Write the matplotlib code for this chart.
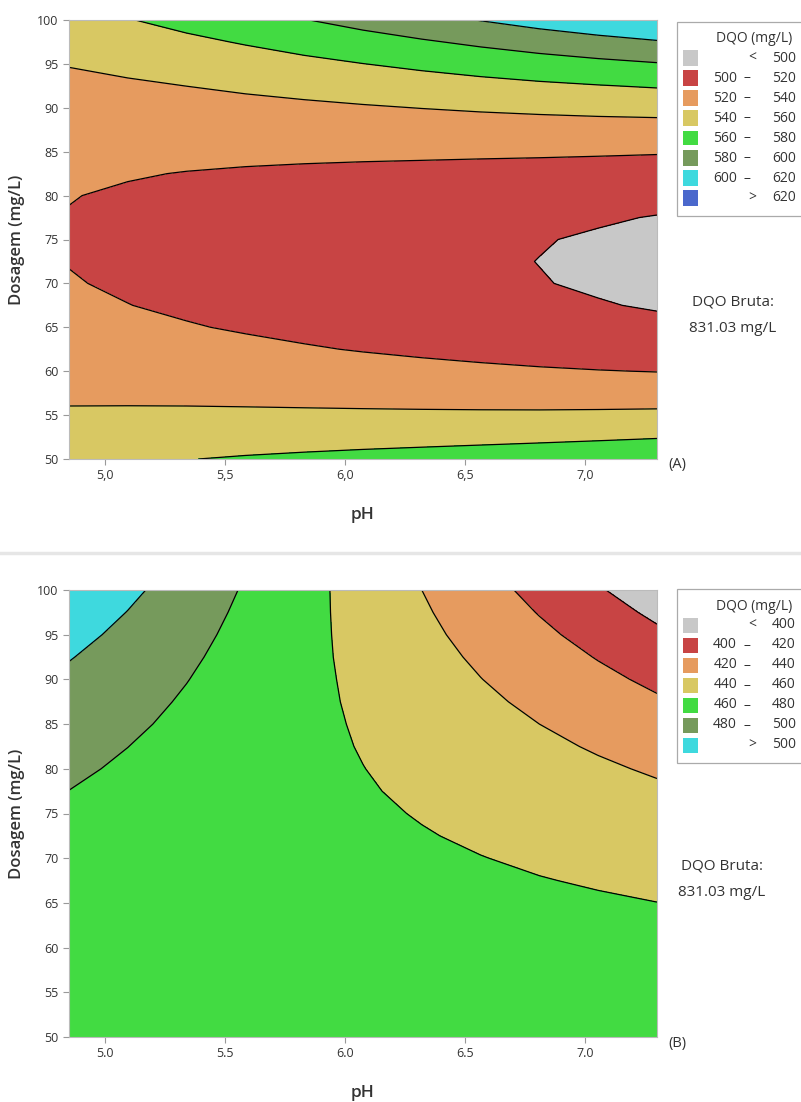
import numpy as np
import matplotlib
matplotlib.use("Agg")
import matplotlib.pyplot as plt
from matplotlib.patches import Rectangle
from matplotlib.lines import Line2D

plt.rcParams['font.family'] = ['Open Sans', 'DejaVu Sans']

# grid: pH along columns, dosage (mg/L) along rows
ph = [4.85, 5.095, 5.34, 5.585, 5.83, 6.075, 6.32, 6.565, 6.81, 7.055, 7.3]
dose = [50, 52.5, 55, 57.5, 60, 62.5, 65, 67.5, 70, 72.5, 75,
        77.5, 80, 82.5, 85, 87.5, 90, 92.5, 95, 97.5, 100]

# (A) DQO (mg/L)
dqo_a = [
    [554.9, 557.4, 559.6, 561.6, 563.4, 565.2, 567.0, 568.9, 570.9, 573.3, 576.0],
    [548.2, 549.6, 550.8, 551.7, 552.5, 553.3, 554.0, 554.9, 556.0, 557.3, 558.9],
    [542.2, 542.6, 542.9, 542.9, 542.8, 542.7, 542.6, 542.6, 542.7, 543.1, 543.7],
    [536.9, 536.5, 535.9, 535.2, 534.4, 533.5, 532.7, 531.9, 531.3, 530.9, 530.7],
    [532.2, 531.2, 530.0, 528.6, 527.2, 525.7, 524.3, 522.9, 521.6, 520.5, 519.6],
    [528.3, 526.7, 524.9, 523.1, 521.2, 519.2, 517.3, 515.5, 513.7, 512.1, 510.6],
    [525.1, 523.1, 520.9, 518.7, 516.4, 514.2, 511.9, 509.7, 507.6, 505.6, 503.6],
    [522.6, 520.2, 517.8, 515.4, 512.9, 510.4, 508.0, 505.6, 503.2, 500.9, 498.7],
    [520.8, 518.3, 515.7, 513.2, 510.6, 508.1, 505.6, 503.1, 500.6, 498.2, 495.8],
    [519.6, 517.1, 514.6, 512.1, 509.6, 507.1, 504.7, 502.2, 499.8, 497.4, 495.0],
    [519.2, 516.8, 514.4, 512.1, 509.8, 507.5, 505.2, 503.0, 500.7, 498.5, 496.1],
    [519.5, 517.3, 515.2, 513.1, 511.2, 509.2, 507.3, 505.4, 503.4, 501.4, 499.4],
    [520.4, 518.6, 516.9, 515.3, 513.8, 512.4, 510.9, 509.4, 507.9, 506.3, 504.6],
    [522.1, 520.8, 519.6, 518.6, 517.7, 516.8, 516.0, 515.1, 514.2, 513.1, 511.9],
    [524.4, 523.8, 523.3, 523.0, 522.8, 522.7, 522.6, 522.4, 522.2, 521.8, 521.2],
    [527.5, 527.6, 528.0, 528.5, 529.2, 529.9, 530.7, 531.4, 532.0, 532.4, 532.6],
    [531.2, 532.3, 533.6, 535.1, 536.7, 538.5, 540.3, 542.0, 543.5, 544.9, 546.0],
    [535.7, 537.7, 540.1, 542.8, 545.6, 548.4, 551.3, 554.2, 556.9, 559.3, 561.5],
    [540.8, 544.1, 547.7, 551.5, 555.6, 559.8, 563.9, 568.0, 572.0, 575.6, 578.9],
    [546.6, 551.2, 556.2, 561.4, 566.9, 572.4, 578.0, 583.5, 588.8, 593.8, 598.5],
    [553.2, 559.2, 565.6, 572.4, 579.4, 586.5, 593.6, 600.6, 607.5, 614.0, 620.0],
]

# (B) DQO (mg/L)
dqo_b = [
    [478, 477, 476, 475, 474, 474, 473, 472, 471, 470, 469],
    [476, 475, 475, 474, 473, 472, 472, 471, 470, 469, 469],
    [475, 474, 473, 473, 472, 471, 470, 470, 469, 468, 468],
    [474, 473, 472, 471, 471, 470, 469, 469, 468, 467, 466],
    [473, 472, 471, 471, 470, 469, 468, 467, 466, 465, 465],
    [472.9, 471.9, 470.8, 469.8, 468.7, 467.7, 466.7, 465.6, 464.6, 463.5, 462.5],
    [473.1, 471.8, 470.5, 469.2, 467.9, 466.6, 465.3, 464.0, 462.7, 461.4, 460.1],
    [473.7, 472.0, 470.4, 468.7, 467.1, 465.5, 463.8, 462.2, 460.5, 458.9, 457.3],
    [474.6, 472.6, 470.5, 468.5, 466.4, 464.4, 462.3, 460.3, 458.2, 456.2, 454.1],
    [476.0, 473.5, 470.9, 468.4, 465.8, 463.3, 460.8, 458.2, 455.7, 453.2, 450.6],
    [477.8, 474.7, 471.6, 468.5, 465.4, 462.3, 459.2, 456.1, 453.0, 449.9, 446.8],
    [479.9, 476.2, 472.4, 468.7, 465.0, 461.2, 457.5, 453.8, 450.0, 446.3, 442.6],
    [482.4, 478.0, 473.5, 469.1, 464.7, 460.2, 455.8, 451.3, 446.9, 442.5, 438.0],
    [485.3, 480.1, 474.9, 469.7, 464.4, 459.2, 454.0, 448.8, 443.6, 438.3, 433.1],
    [488.6, 482.6, 476.5, 470.4, 464.3, 458.3, 452.2, 446.1, 440.0, 433.9, 427.9],
    [492.4, 485.3, 478.3, 471.3, 464.3, 457.3, 450.3, 443.3, 436.3, 429.3, 422.2],
    [496.4, 488.4, 480.4, 472.4, 464.4, 456.4, 448.3, 440.3, 432.3, 424.3, 416.3],
    [500.9, 491.8, 482.7, 473.6, 464.5, 455.4, 446.3, 437.3, 428.2, 419.1, 410.0],
    [505.8, 495.5, 485.3, 475.0, 464.8, 454.5, 444.3, 434.0, 423.8, 413.5, 403.3],
    [511.0, 499.6, 488.1, 476.6, 465.1, 453.7, 442.2, 430.7, 419.2, 407.8, 396.3],
    [516.7, 503.9, 491.1, 478.4, 465.6, 452.8, 440.0, 427.2, 414.5, 401.7, 388.9],
]

lev_a = [500, 520, 540, 560, 580, 600, 620]
cols_a = ['#c8c8c8', '#c84444', '#e69b5f', '#d8c863', '#42db42', '#769a5c', '#3ed9de', '#4a68cc']
lev_b = [400, 420, 440, 460, 480, 500]
cols_b = ['#c8c8c8', '#c84444', '#e69b5f', '#d8c863', '#42db42', '#769a5c', '#3ed9de']
ticks_x = [5.0, 5.5, 6.0, 6.5, 7.0]
ticks_y = [50, 55, 60, 65, 70, 75, 80, 85, 90, 95, 100]

W, H = 801, 1102
fig = plt.figure(figsize=(W / 100, H / 100), dpi=100)
txt = '#333333'

def fx(x):
    return x / W

def fy(y):
    return 1 - y / H

def panel(top, bottom, z, lev, cols, dec, tag, leg_top, bruta_x, bruta_y):
    ax = fig.add_axes([fx(69), fy(bottom), fx(657) - fx(69), fy(top) - fy(bottom)])
    z = np.array(z, dtype=float)
    ax.contourf(ph, dose, z, levels=[-1e4] + lev + [1e4], colors=cols)
    ax.contour(ph, dose, z, levels=lev, colors='black', linewidths=0.9)
    ax.set_xlim(4.85, 7.3)
    ax.set_ylim(50, 100)
    ax.set_xticks(ticks_x)
    ax.set_xticklabels([f"{v:.1f}".replace('.', dec) for v in ticks_x])
    ax.set_yticks(ticks_y)
    ax.tick_params(colors='#999999', labelcolor=txt, labelsize=9, length=4, width=0.8)
    for s in ax.spines.values():
        s.set_color('#bbbbbb')
        s.set_linewidth(0.8)
    ax.set_xlabel('pH', fontsize=12.5, color=txt, fontweight='semibold', labelpad=18)
    ax.set_ylabel('Dosagem (mg/L)', fontsize=12, color=txt, fontweight='semibold', labelpad=9)
    fig.text(fx(668), fy(bottom + 6), tag, fontsize=10.5, color=txt, va='center', ha='left')
    fig.text(fx(bruta_x), fy(bruta_y), 'DQO Bruta:', fontsize=11, color=txt, ha='center', va='center')
    fig.text(fx(bruta_x), fy(bruta_y + 27), '831.03 mg/L', fontsize=11, color=txt, ha='center', va='center')

    # legend box
    n = len(cols)
    y0 = leg_top
    y1 = leg_top + 36 + 20 * (n - 1) + 18
    fig.patches.append(Rectangle((fx(677), fy(y1)), fx(810) - fx(677), fy(y0) - fy(y1),
                                 transform=fig.transFigure, facecolor='white', edgecolor='#aaaaaa', lw=0.9))
    fig.text(fx(754), fy(y0 + 17), 'DQO (mg/L)', fontsize=10, color=txt, ha='center', va='center')
    labels = [('<', '', lev[0])] + [(lev[i], '–', lev[i + 1]) for i in range(len(lev) - 1)] + [('>', '', lev[-1])]
    for i, (col, lab) in enumerate(zip(cols, labels)):
        yc = y0 + 36 + 20 * i
        fig.patches.append(Rectangle((fx(683), fy(yc + 7.5)), fx(698) - fx(683), fy(yc - 7.5) - fy(yc + 7.5),
                                     transform=fig.transFigure, facecolor=col, edgecolor='none'))
        if lab[0] in ('<', '>'):
            fig.text(fx(752), fy(yc), lab[0], fontsize=10, color=txt, ha='center', va='center')
        else:
            fig.text(fx(737), fy(yc), str(lab[0]), fontsize=10, color=txt, ha='right', va='center')
            fig.text(fx(747), fy(yc), '–', fontsize=10, color=txt, ha='center', va='center')
        fig.text(fx(796), fy(yc), str(lab[2]), fontsize=10, color=txt, ha='right', va='center')
    return ax

panel(20, 459, dqo_a, lev_a, cols_a, ',', '(A)', 22, 733, 302)
panel(590, 1037, dqo_b, lev_b, cols_b, '.', '(B)', 589, 722, 866)
fig.lines.append(Line2D([0, 1], [fy(553), fy(553)], transform=fig.transFigure, color='#e6e6e6', lw=2.5))

fig.savefig("out.png")
